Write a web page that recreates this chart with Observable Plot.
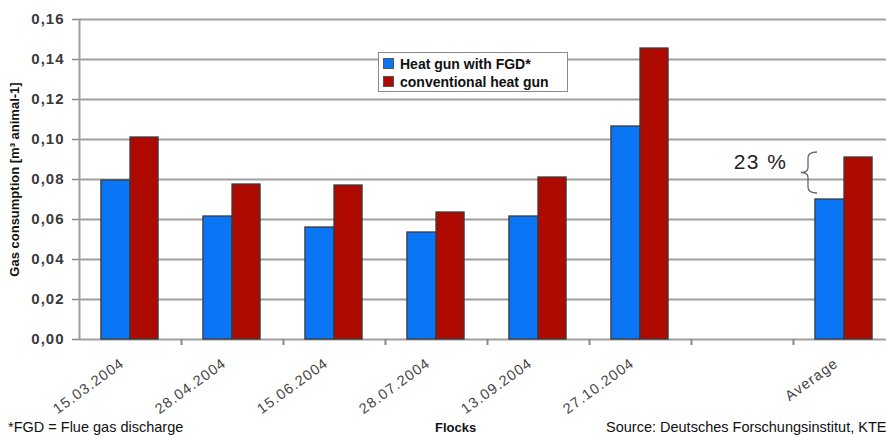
<!DOCTYPE html>
<html><head><meta charset="utf-8">
<script src="https://cdn.jsdelivr.net/npm/d3@7"></script>
<script src="https://cdn.jsdelivr.net/npm/@observablehq/plot@0.6"></script>
<style>
body{margin:0;background:#fff;overflow:hidden;font-family:"Liberation Sans",Arial,sans-serif;}
#wrap{position:relative;width:886px;height:437px;overflow:hidden;}
#legend{position:absolute;left:378px;top:52px;width:188px;height:38px;border:1.5px solid #8a8a8a;background:#fff;font-weight:bold;font-size:14px;color:#111;}
#legend .row{position:absolute;left:4px;height:16px;line-height:16px;white-space:nowrap;}
#legend .sw{display:inline-block;width:9px;height:9px;border:1px solid #555;margin-right:6px;vertical-align:0px;}
.note{position:absolute;top:419px;font-size:14.5px;color:#111;white-space:nowrap;}
#chart g[aria-label="x-axis tick label"] text{letter-spacing:1.1px;}
#chart g[aria-label="y-axis tick label"] text{letter-spacing:1px;}
</style></head>
<body>
<div id="wrap">
  <div id="chart"></div>
  <div id="legend"></div>
  <div class="note" style="left:8px">*FGD = Flue gas discharge</div>
  <div class="note" style="left:435px;font-weight:bold;font-size:13px;top:420px">Flocks</div>
  <div class="note" style="left:606px">Source: Deutsches Forschungsinstitut, KTE</div>
</div>
<script>
const categories = ["15.03.2004","28.04.2004","15.06.2004","28.07.2004","13.09.2004","27.10.2004","Average"];
const slots = ["15.03.2004","28.04.2004","15.06.2004","28.07.2004","13.09.2004","27.10.2004"," ","Average"];
const withFGD = [0.0795,0.0615,0.056,0.0535,0.0615,0.1065,0.070];
const conventional = [0.101,0.0775,0.077,0.0635,0.081,0.1455,0.091];
const seriesNames = ["Heat gun with FGD*","conventional heat gun"];
const colors = ["#0a76f6","#ae0a00"];
const yTicks = [0,0.02,0.04,0.06,0.08,0.10,0.12,0.14,0.16];
const gridTicks = yTicks.slice(1);
const reductionLabel = "23 %";
const yTitle = "Gas consumption [m³ animal-1]";

const rowsA = categories.map((c,i)=>({flock:c, value:withFGD[i]}));
const rowsB = categories.map((c,i)=>({flock:c, value:conventional[i]}));
const fmt = d => d.toFixed(2).replace(".", ",");

const W = 886, H = 437, mL = 79, mR = -9, mT = 19, mB = 98;
const bw = (W - mL - mR) / slots.length;

const plot = Plot.plot({
  width: W, height: H,
  marginLeft: mL, marginRight: mR, marginTop: mT, marginBottom: mB,
  style: {fontFamily: "Liberation Sans, Arial, sans-serif", background: "transparent"},
  x: {domain: slots, padding: 0, label: null},
  y: {domain: [0, 0.16], label: null},
  marks: [
    Plot.ruleY(gridTicks, {stroke: "#a0a0a0", strokeWidth: 2}),
    Plot.ruleY([0], {stroke: "#a0a0a0", strokeWidth: 2}),
    Plot.ruleX([slots[0]], {dx: -bw/2, stroke: "#a0a0a0", strokeWidth: 2}),
    Plot.ruleX(slots.slice(1), {dx: -bw/2, y1: 0, y2: -0.003, stroke: "#888", strokeWidth: 2}),
    Plot.barY(rowsA, {x: "flock", y: "value", fill: colors[0], stroke: "#3a3a3a", strokeWidth: 1.3,
      insetLeft: bw*0.215, insetRight: bw*0.5}),
    Plot.barY(rowsB, {x: "flock", y: "value", fill: colors[1], stroke: "#3a3a3a", strokeWidth: 1.3,
      insetLeft: bw*0.5, insetRight: bw*0.225}),
    Plot.axisY(yTicks, {tickFormat: fmt, tickSize: 7, tickPadding: 8, fontSize: 15, fontWeight: "bold", fill: "#3a3a3a", stroke: "#888", strokeWidth: 1.5, label: null}),
    Plot.axisX(slots, {tickRotate: -36, tickSize: 0, tickPadding: 22, dx: -8, fontSize: 14.5, fill: "#444", label: null}),
    Plot.text([reductionLabel], {x: () => "Average", y: () => (withFGD[6]+conventional[6])/2, text: d => d,
      dx: -57, dy: -16, textAnchor: "end", fontSize: 21, fill: "#222"}),
    Plot.text([yTitle], {frameAnchor: "left", text: d => d, rotate: -90, dx: -65, textAnchor: "middle",
      fontWeight: "bold", fontSize: 13, fill: "#111"})
  ]
});
document.getElementById("chart").appendChild(plot);
d3.select(plot).selectAll("text").filter(function(){ return this.textContent === reductionLabel; })
  .style("letter-spacing", "1.5px");

// brace between the two Average bars
const xs = plot.scale("x"), ys = plot.scale("y");
const x0 = xs.apply("Average");
const yTop = ys.apply(conventional[6]) - 5, yBot = ys.apply(withFGD[6]) - 6;
const yMid = (yTop + yBot) / 2;
const xr = x0 + 24, xm = x0 + 15, xt = x0 + 8;
d3.select(plot).append("path")
  .attr("d", `M${xr},${yTop} Q${xm},${yTop} ${xm},${yTop+6} L${xm},${yMid-5} Q${xm},${yMid} ${xt},${yMid} Q${xm},${yMid} ${xm},${yMid+5} L${xm},${yBot-6} Q${xm},${yBot} ${xr},${yBot}`)
  .attr("fill", "none").attr("stroke", "#666").attr("stroke-width", 1.3);

// legend
const lg = document.getElementById("legend");
seriesNames.forEach((n,i)=>{
  const r = document.createElement("div");
  r.className = "row"; r.style.top = (3 + i*18) + "px";
  r.innerHTML = `<span class="sw" style="background:${colors[i]}"></span>${n}`;
  lg.appendChild(r);
});
</script>
</body></html>
